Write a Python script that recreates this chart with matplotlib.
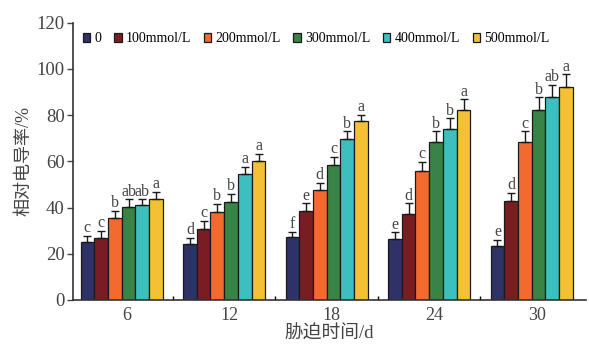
import matplotlib.pyplot as plt
import numpy as np
from matplotlib.ticker import FixedLocator
import matplotlib.transforms as mtransforms

plt.rcParams['font.family'] = ['Liberation Serif', 'Noto Sans CJK SC']

days = ['6', '12', '18', '24', '30']
series = ['0', '100mmol/L', '200mmol/L', '300mmol/L', '400mmol/L', '500mmol/L']
colors = ['#2E3267', '#7A1D22', '#F26A2E', '#3A8346', '#3CBFBE', '#F3C133']

# mean relative conductivity (%) per concentration, one list per series over days
c0 = [25.2, 24.1, 27.1, 26.3, 23.4]
c100 = [26.7, 30.6, 38.5, 37.1, 42.9]
c200 = [35.6, 38.1, 47.5, 56.0, 68.3]
c300 = [40.3, 42.3, 58.4, 68.3, 82.3]
c400 = [41.0, 54.4, 69.7, 73.9, 87.7]
c500 = [43.9, 60.2, 77.3, 82.3, 92.3]

e0 = [2.5, 2.9, 2.5, 2.9, 2.6]
e100 = [3.2, 3.6, 3.3, 4.7, 3.6]
e200 = [3.0, 3.6, 3.3, 3.9, 4.6]
e300 = [3.3, 3.7, 3.6, 4.6, 5.4]
e400 = [2.6, 3.3, 3.2, 4.7, 5.4]
e500 = [3.0, 3.0, 2.8, 4.6, 5.4]

l0 = ['c', 'd', 'f', 'e', 'e']
l100 = ['c', 'c', 'e', 'd', 'd']
l200 = ['b', 'b', 'd', 'c', 'c']
l300 = ['ab', 'b', 'c', 'b', 'b']
l400 = ['ab', 'a', 'b', 'b', 'ab']
l500 = ['a', 'a', 'a', 'a', 'a']

means = [c0, c100, c200, c300, c400, c500]
errs = [e0, e100, e200, e300, e400, e500]
letters = [l0, l100, l200, l300, l400, l500]

fig = plt.figure(figsize=(5.89, 3.48), dpi=100)
ax = fig.add_axes([0.124, 0.138, 0.871, 0.797])

x = np.arange(len(days))
w = 0.134
for i, (m, e, lab, col) in enumerate(zip(means, errs, letters, colors)):
    pos = x + (i - 2.5) * w
    ax.bar(pos, m, width=w, color=col, edgecolor='#1a1a1a', linewidth=0.9,
           label=series[i], zorder=2)
    ax.errorbar(pos, m, yerr=[np.zeros(len(m)), e], fmt='none', ecolor='#1a1a1a',
                elinewidth=1.0, capsize=3, capthick=1.0, zorder=3)
    for p, v, er, t in zip(pos, m, e, lab):
        ax.text(p, v + er - 0.2, t, ha='center', va='bottom', fontsize=11.5,
                color='#444444')

ax.set_xlim(-0.475, 4.53)
ax.set_ylim(0, 120)
ax.set_yticks(range(0, 121, 20))
ax.set_xticks(x)
ax.set_xticklabels(days)
ax.xaxis.set_minor_locator(FixedLocator([0.5, 1.5, 2.5, 3.5]))
ax.tick_params(axis='x', which='major', length=0, pad=5, labelsize=13, colors='#444444')
ax.tick_params(axis='x', which='minor', direction='in', length=3, width=1)
ax.tick_params(axis='y', direction='out', length=4, width=1, labelsize=13.5,
               colors='#444444', pad=2)
offset = mtransforms.ScaledTranslation(5 / 100, 0, fig.dpi_scale_trans)
for lbl in ax.get_xticklabels():
    lbl.set_transform(lbl.get_transform() + offset)

for s in ['top', 'right']:
    ax.spines[s].set_visible(False)
for s in ['left', 'bottom']:
    ax.spines[s].set_linewidth(1.2)
    ax.spines[s].set_color('#333333')

ax.set_ylabel('相对电导率/%', fontsize=13, color='#444444', labelpad=3)
ax.set_xlabel('胁迫时间/d', fontsize=13.5, color='#444444', labelpad=1)

ax.legend(loc='upper left', bbox_to_anchor=(0.0, 1.0), ncol=6, frameon=False,
          fontsize=10, handlelength=0.55, handleheight=0.55, handletextpad=0.3,
          columnspacing=0.9, borderaxespad=0.3)

fig.savefig('out.png', dpi=100)
